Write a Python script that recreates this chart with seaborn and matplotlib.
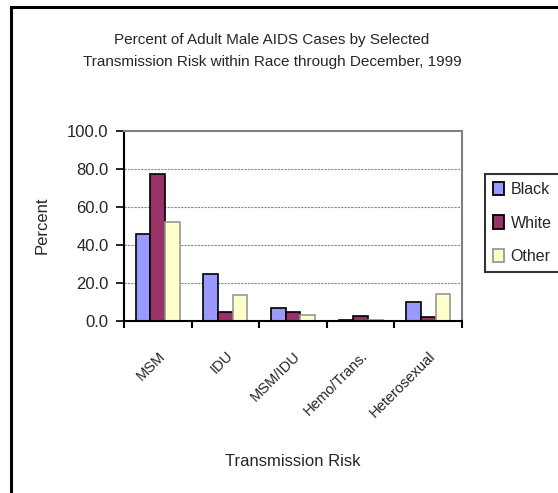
import matplotlib
matplotlib.use("Agg")
import matplotlib.pyplot as plt
import seaborn as sns
import pandas as pd
import numpy as np
from matplotlib.patches import Rectangle, Patch
from matplotlib.ticker import FormatStrFormatter

categories = ["MSM", "IDU", "MSM/IDU", "Hemo/Trans.", "Heterosexual"]
races = ["Black", "White", "Other"]
black_vals = [46.0, 25.0, 7.0, 0.5, 10.0]
white_vals = [77.5, 5.0, 5.0, 2.5, 2.0]
other_vals = [52.0, 13.5, 3.0, 0.5, 14.0]
yticks = [0, 20, 40, 60, 80, 100]

colors = {"Black": "#9999FF", "White": "#993366", "Other": "#FFFFCC"}
edges = {"Black": "black", "White": "black", "Other": "#999999"}

rows = []
for race, vals in zip(races, [black_vals, white_vals, other_vals]):
    for c, v in zip(categories, vals):
        rows.append({"Risk": c, "Race": race, "Percent": v})
df = pd.DataFrame(rows)

sns.set_style("white")
plt.rcParams["font.family"] = ["Liberation Sans", "DejaVu Sans"]

W, H = 558, 493
fig = plt.figure(figsize=(W / 100, H / 100), dpi=100)
ax = fig.add_axes([124 / W, 1 - 321 / H, (462 - 124) / W, (321 - 131) / H])

sns.barplot(data=df, x="Risk", y="Percent", hue="Race", order=categories,
            hue_order=races, palette=colors, width=0.65, ax=ax,
            legend=False, saturation=1)
for cont, race in zip(ax.containers, races):
    for bar in cont:
        bar.set_edgecolor(edges[race])
        bar.set_linewidth(1.2)

ax.set_ylim(0, 100)
ax.set_xlim(-0.5, len(categories) - 0.5)
ax.set_yticks(yticks)
ax.yaxis.set_major_formatter(FormatStrFormatter("%.1f"))
ax.tick_params(axis="y", labelsize=12, length=6, width=1.2, color="black", pad=5, direction="out", left=True)
ax.set_xticks(range(len(categories)))
ax.set_xticklabels(categories, rotation=45, ha="right", rotation_mode="anchor", fontsize=10.5)
ax.tick_params(axis="x", length=0, pad=20)
ax.set_xticks(np.arange(-0.5, len(categories), 1.0), minor=True)
ax.tick_params(axis="x", which="minor", length=5, width=1.5, color="black", direction="out", bottom=True)

for y in yticks[1:-1]:
    ax.axhline(y, color="#888888", linestyle=(0, (2, 1)), linewidth=0.8, zorder=0)

for s in ["left", "bottom"]:
    ax.spines[s].set_color("black")
    ax.spines[s].set_linewidth(1.5)
for s in ["top", "right"]:
    ax.spines[s].set_color("#808080")
    ax.spines[s].set_linewidth(1.5)
ax.spines["bottom"].set_zorder(5)

ax.set_xlabel("")
ax.set_ylabel("")
fig.text(293 / W, 1 - 462 / H, "Transmission Risk", ha="center", va="center", fontsize=12)
fig.text(42 / W, 1 - 225 / H, "Percent", ha="center", va="center", rotation=90, fontsize=12)
fig.text(272 / W, 1 - 51 / H,
         "Percent of Adult Male AIDS Cases by Selected\nTransmission Risk within Race through December, 1999",
         ha="center", va="center", fontsize=11, linespacing=1.75)

handles = [Patch(facecolor=colors[r], edgecolor=edges[r], linewidth=1.3) for r in races]
leg = fig.legend(handles, races, loc="upper left", bbox_to_anchor=(485 / W, 1 - 174 / H),
                 frameon=True, fontsize=11.5, handlelength=0.7, handleheight=0.9,
                 handletextpad=0.4, labelspacing=1.15, borderpad=0.5, fancybox=False,
                 borderaxespad=0)
leg.get_frame().set_edgecolor("black")
leg.get_frame().set_linewidth(1.5)

fig.patches.append(Rectangle((11 / W, -0.1), 1.2, 1 - 7 / H + 0.1, transform=fig.transFigure,
                             fill=False, edgecolor="black", linewidth=2.2, zorder=10))

fig.savefig("out.png", dpi=100)
